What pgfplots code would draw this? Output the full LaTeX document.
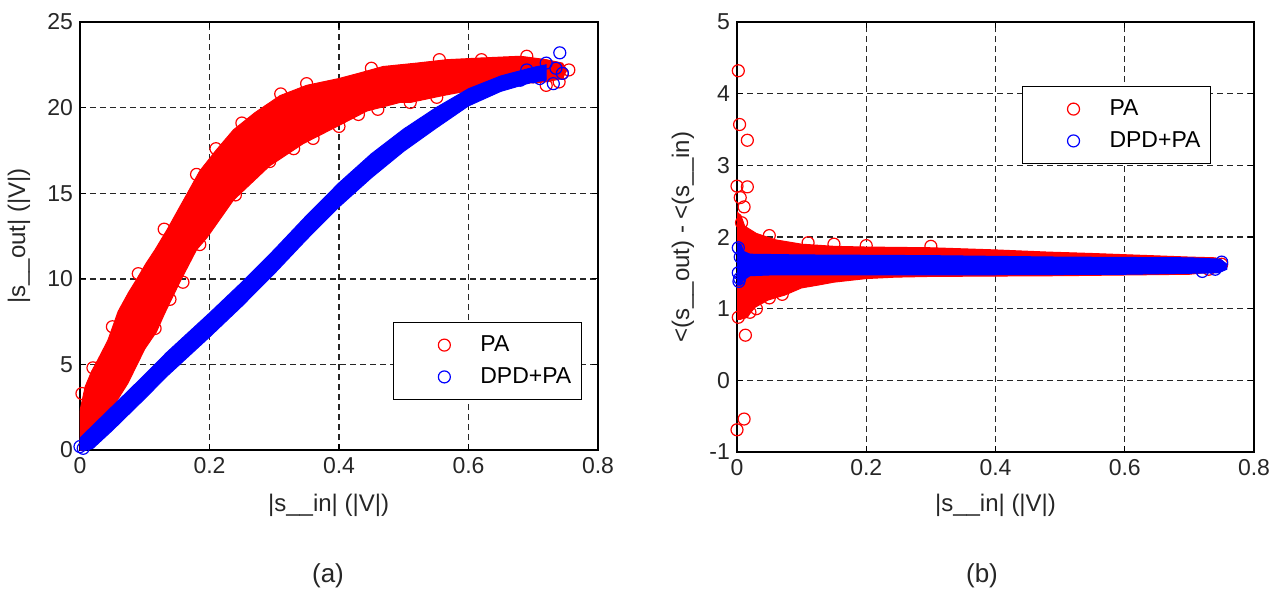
\documentclass[border=0pt]{standalone}
\usepackage{fontspec}
\setmainfont{Liberation Sans}
\usepackage{pgfplots}
\pgfplotsset{compat=1.18}
\pgfplotsset{
  mystyle/.style={
    scale only axis,
    clip mode=individual,
    /pgf/number format/assume math mode=true,
    tick label style={font=\fontsize{11.5}{13}\selectfont, black!85},
    label style={font=\fontsize{12}{14}\selectfont, black!85},
    xmin=0, xmax=0.8,
    xtick={0,0.2,0.4,0.6,0.8},
    tick align=inside,
    major tick length=3pt,
    tick style={black, line width=0.6pt},
    axis line style={black, line width=0.7pt},
    grid=major,
    major grid style={black!85, dash pattern=on 3pt off 2pt, line width=0.7pt},
    legend style={draw=black, line width=0.6pt, font=\fontsize{11.5}{13}\selectfont,
      inner xsep=3pt, inner ysep=4.5pt, row sep=2.5pt, cells={anchor=west}},
    legend cell align=left,
    legend image code/.code={\path[draw=none,fill=none] (-4.5pt,-3pt) rectangle (34pt,3pt); \draw[##1] plot coordinates {(18pt,0pt)};},
  },
  pa/.style={only marks, mark=o, mark size=3pt, red, line width=0.6pt},
  dpd/.style={only marks, mark=o, mark size=3pt, blue, line width=0.6pt},
}
\begin{document}
\begin{tikzpicture}
\useasboundingbox (0,0) rectangle (640.5pt,295.5pt);
% ---------------- (a) ----------------
\begin{axis}[mystyle,
  at={(40pt,70.5pt)}, anchor=south west, width=259pt, height=214pt,
  ymin=0, ymax=25, ytick={0,5,10,15,20,25},
  xlabel={|s\_\_in| (|V|)}, ylabel={|s\_\_out| (|V|)},
  xlabel style={at={(axis description cs:0.48,-0.1285)}, anchor=center},
  ylabel style={at={(axis description cs:-0.118,0.5)}, anchor=center},
  legend style={at={(0.969,0.117)}, anchor=south east},
]
\addplot[draw=red, fill=red, line width=0.5pt, forget plot] coordinates {
(0,0) (0,2.3) (0.008,3.7) (0.018,4.6) (0.028,5.3) (0.043,6.4) (0.059,8.1) (0.075,9.2)
(0.088,10.0) (0.102,10.9) (0.116,11.7) (0.135,12.9) (0.16,14.6) (0.185,16.3) (0.21,17.5)
(0.237,18.7) (0.27,19.7) (0.309,20.7) (0.35,21.3) (0.40,21.7) (0.43,22.0) (0.468,22.4)
(0.52,22.6) (0.567,22.8) (0.62,22.9) (0.68,23.0) (0.72,22.8) (0.745,22.6) (0.752,22.2)
(0.745,21.7) (0.72,21.5) (0.68,21.4) (0.63,21.2) (0.56,20.7) (0.51,20.3) (0.494,20.3)
(0.443,19.8) (0.397,18.9) (0.345,17.9) (0.293,16.6) (0.237,14.6) (0.196,12.4) (0.18,11.7)
(0.154,9.8) (0.131,8.0) (0.118,6.9) (0.1,5.9) (0.074,3.9) (0.059,3.0) (0.04,1.8)
(0.025,0.8) (0.012,0.1) (0.005,0)
} -- cycle;
\addplot[pa] coordinates {
(0.116,7.1) (0.139,8.8) (0.159,9.8) (0.185,12.0) (0.293,16.85) (0.33,17.6) (0.4,18.9)
(0.46,19.9) (0.51,20.3) (0.551,20.6) (0.745,22.0) (0.74,21.5) (0.73,22.3) (0.755,22.2)
(0.72,21.3) (0.31,20.8) (0.35,21.4) (0.45,22.3) (0.555,22.8) (0.69,23.0) (0.25,19.1)
(0.18,16.1) (0.13,12.9) (0.09,10.3) (0.05,7.2) (0.02,4.8) (0.003,3.3)
(0.24,14.9) (0.36,18.2) (0.21,17.6) (0.62,22.8) (0.43,19.6)
};
\addlegendentry{PA}
\addplot[draw=blue, fill=blue, line width=0.5pt, forget plot] coordinates {
(0,0.7) (0.05,2.55) (0.1,4.4) (0.134,5.7) (0.2,8.0) (0.25,9.8) (0.3,11.7) (0.35,13.7)
(0.4,15.6) (0.45,17.3) (0.5,18.75) (0.55,20.0) (0.6,21.1) (0.65,21.85) (0.7,22.35) (0.72,22.5)
(0.72,21.6) (0.7,21.5) (0.65,20.95) (0.6,20.1) (0.55,18.8) (0.5,17.45) (0.45,15.9)
(0.4,14.2) (0.35,12.3) (0.3,10.3) (0.25,8.4) (0.2,6.6) (0.134,4.3) (0.1,3.0) (0.05,1.15)
(0.02,0.1) (0.01,0) (0,0)
} -- cycle;
\addplot[dpd] coordinates {
(0.741,23.2) (0.731,21.4) (0.69,22.2) (0.70,21.8) (0.72,22.6) (0.68,21.6) (0.735,22.3)
(0.71,21.7) (0.745,22.0) (0,0.2) (0.005,0.1)
};
\addlegendentry{DPD+PA\hspace{2.5pt}}
\end{axis}
% ---------------- (b) ----------------
\begin{axis}[mystyle,
  at={(368.5pt,69.5pt)}, anchor=south west, width=258.5pt, height=215pt,
  ymin=-1, ymax=5, ytick={-1,0,1,2,3,4,5},
  xlabel={|s\_\_in| (|V|)}, ylabel={<(s\_\_out) - <(s\_\_in)},
  xlabel style={at={(axis description cs:0.5,-0.123)}, anchor=center},
  ylabel style={at={(axis description cs:-0.1044,0.5)}, anchor=center},
  legend style={at={(0.917,0.851)}, anchor=north east},
]
\addplot[draw=red, fill=red, line width=0.5pt, forget plot] coordinates {
(0,2.35) (0.006,2.3) (0.012,2.15) (0.03,2.05) (0.06,1.96) (0.1,1.9) (0.15,1.87) (0.2,1.86)
(0.3,1.85) (0.4,1.82) (0.48,1.79) (0.55,1.77) (0.64,1.74) (0.7,1.72) (0.74,1.71) (0.752,1.66)
(0.752,1.53) (0.7,1.48) (0.5,1.46) (0.3,1.45) (0.245,1.44) (0.2,1.42) (0.15,1.37)
(0.126,1.33) (0.1,1.29) (0.074,1.19) (0.048,1.12) (0.028,1.02) (0.015,0.88) (0.005,0.85) (0,0.85)
} -- cycle;
\addplot[pa] coordinates {
(0.002,4.32) (0.004,3.57) (0.016,3.35) (0,2.71) (0.016,2.7) (0.011,2.42) (0.013,0.63)
(0.011,-0.54) (0,-0.69) (0.005,2.55) (0.007,2.2) (0.002,0.88) (0.01,0.95) (0.02,0.95)
(0.03,1.0) (0.05,1.15) (0.07,1.2) (0.11,1.92) (0.15,1.9) (0.2,1.88) (0.3,1.87)
(0.05,2.02) (0.74,1.6) (0.75,1.62) (0.73,1.55)
};
\addlegendentry{PA}
\addplot[draw=blue, fill=blue, line width=0.5pt, forget plot] coordinates {
(0,1.92) (0.006,1.9) (0.01,1.8) (0.02,1.76) (0.1,1.75) (0.3,1.74) (0.5,1.72) (0.7,1.71)
(0.748,1.69) (0.758,1.62) (0.758,1.55) (0.745,1.5) (0.6,1.48) (0.3,1.47) (0.05,1.47)
(0.02,1.46) (0.01,1.4) (0.006,1.33) (0,1.33)
} -- cycle;
\addplot[dpd] coordinates {
(0.002,1.85) (0.003,1.38) (0.005,1.72) (0.74,1.55) (0.745,1.6) (0.72,1.52) (0.75,1.65)
(0.002,1.5) (0.004,1.42)
};
\addlegendentry{DPD+PA\hspace{2.5pt}}
\end{axis}
\node[font=\fontsize{13}{15}\selectfont, black!85] at (164pt,7.5pt) {(a)};
\node[font=\fontsize{13}{15}\selectfont, black!85] at (491pt,7.5pt) {(b)};
\end{tikzpicture}
\end{document}
